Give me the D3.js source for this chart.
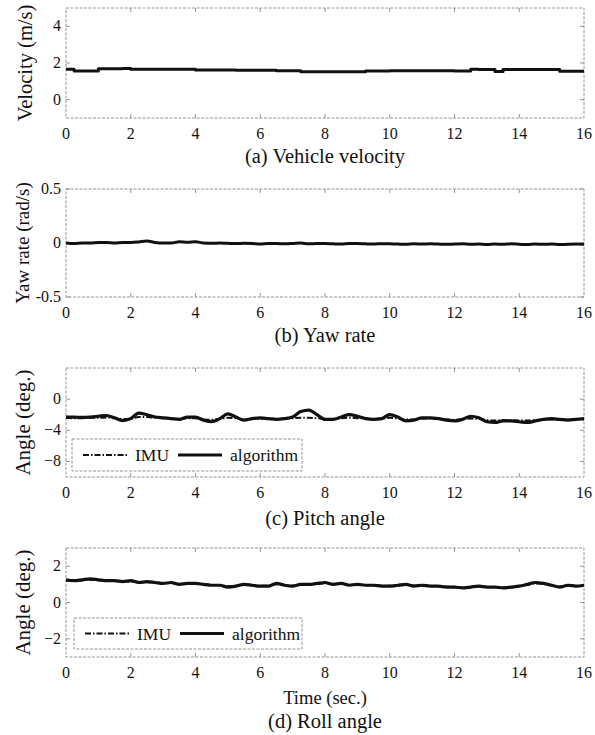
<!DOCTYPE html>
<html>
<head>
<meta charset="utf-8">
<script src="https://cdn.jsdelivr.net/npm/d3@7"></script>
<style>
  body { margin: 0; background: #fff; }
  text { font-family: "Liberation Serif", "Times New Roman", serif; fill: #111; }
</style>
</head>
<body>
<div id="chart"></div>
<script>
// sample times (s), 0.25 s step
var time = [0,0.25,0.5,0.75,1,1.25,1.5,1.75,2,2.25,2.5,2.75,3,3.25,3.5,3.75,
  4,4.25,4.5,4.75,5,5.25,5.5,5.75,6,6.25,6.5,6.75,7,7.25,7.5,7.75,
  8,8.25,8.5,8.75,9,9.25,9.5,9.75,10,10.25,10.5,10.75,11,11.25,11.5,11.75,
  12,12.25,12.5,12.75,13,13.25,13.5,13.75,14,14.25,14.5,14.75,15,15.25,15.5,15.75,16];

var velocity = [1.66,1.56,1.56,1.56,1.68,1.68,1.68,1.7,1.66,1.66,1.66,1.66,1.66,1.66,1.66,1.66,
  1.62,1.62,1.62,1.62,1.62,1.6,1.6,1.6,1.6,1.6,1.58,1.58,1.58,1.52,1.52,1.52,
  1.52,1.52,1.52,1.52,1.52,1.56,1.56,1.56,1.58,1.58,1.58,1.58,1.58,1.58,1.58,1.58,
  1.56,1.56,1.66,1.64,1.64,1.54,1.64,1.64,1.64,1.64,1.64,1.64,1.64,1.55,1.55,1.55,1.55];

var yawRate = [0.0,-0.005,0.0,0.0,0.005,0.005,0.0,0.005,0.005,0.01,0.018,0.005,0.0,0.0,0.012,0.008,
  0.012,0.0,-0.003,0.0,-0.003,-0.005,-0.003,-0.005,-0.01,-0.005,-0.005,-0.008,-0.005,0.0,-0.008,-0.005,
  -0.005,-0.008,-0.01,-0.005,-0.005,-0.008,-0.01,-0.006,-0.008,-0.01,-0.012,-0.008,-0.01,-0.008,-0.01,-0.012,
  -0.01,-0.008,-0.012,-0.01,-0.015,-0.01,-0.012,-0.008,-0.012,-0.015,-0.01,-0.012,-0.01,-0.015,-0.012,-0.01,-0.012];

var pitchImu = [-2.4,-2.45,-2.45,-2.4,-2.4,-2.35,-2.45,-2.55,-2.5,-2.3,-2.3,-2.4,-2.45,-2.5,-2.55,-2.45,
  -2.45,-2.6,-2.65,-2.55,-2.4,-2.45,-2.6,-2.55,-2.5,-2.5,-2.55,-2.5,-2.45,-2.4,-2.4,-2.45,
  -2.55,-2.55,-2.45,-2.4,-2.45,-2.5,-2.55,-2.5,-2.4,-2.5,-2.6,-2.6,-2.5,-2.5,-2.55,-2.6,
  -2.65,-2.6,-2.5,-2.55,-2.7,-2.75,-2.7,-2.7,-2.75,-2.75,-2.7,-2.65,-2.6,-2.65,-2.65,-2.6,-2.6];

var pitchAlg = [-2.3,-2.3,-2.35,-2.3,-2.2,-2.1,-2.4,-2.75,-2.5,-1.8,-2.0,-2.3,-2.4,-2.5,-2.6,-2.3,
  -2.3,-2.7,-2.9,-2.5,-1.9,-2.3,-2.7,-2.5,-2.4,-2.5,-2.6,-2.5,-2.3,-1.6,-1.4,-2.0,
  -2.6,-2.6,-2.3,-2.0,-2.2,-2.5,-2.6,-2.5,-2.0,-2.3,-2.8,-2.7,-2.4,-2.4,-2.5,-2.7,
  -2.8,-2.6,-2.2,-2.4,-2.9,-3.0,-2.8,-2.8,-2.9,-3.0,-2.8,-2.6,-2.5,-2.6,-2.7,-2.6,-2.5];

var rollImu = [1.2,1.2,1.22,1.25,1.22,1.2,1.18,1.15,1.15,1.12,1.12,1.1,1.06,1.08,1.02,1.04,
  1.04,1.0,0.97,0.96,0.9,0.92,0.98,0.95,0.92,0.92,1.0,0.96,0.93,0.98,1.0,1.02,
  1.06,1.0,1.03,0.97,0.98,0.96,0.95,0.92,0.92,0.94,0.97,0.92,0.93,0.91,0.9,0.87,
  0.86,0.83,0.86,0.88,0.86,0.85,0.83,0.86,0.9,0.97,1.05,1.02,0.95,0.88,0.93,0.91,0.93];

var rollAlg = [1.25,1.2,1.25,1.3,1.25,1.2,1.2,1.15,1.2,1.1,1.15,1.1,1.05,1.1,1.0,1.05,
  1.05,1.0,0.95,0.95,0.85,0.9,1.0,0.95,0.9,0.9,1.05,0.95,0.9,1.0,1.0,1.05,
  1.1,1.0,1.05,0.95,1.0,0.95,0.95,0.9,0.9,0.95,1.0,0.9,0.95,0.9,0.9,0.85,
  0.85,0.8,0.85,0.9,0.85,0.85,0.8,0.85,0.9,1.0,1.1,1.05,0.95,0.85,0.95,0.9,0.95];

var xTicks = [0,2,4,6,8,10,12,14,16];

var width = 595, height = 735;
var left = 66, right = 584;

var svg = d3.select("#chart").append("svg")
    .attr("width", width)
    .attr("height", height);

var x = d3.scaleLinear().domain([0, 16]).range([left, right]);

var panels = [
  { top: 8, bottom: 118, domain: [-1, 5], ticks: [0, 2, 4], fmt: d3.format("d"),
    ylabel: "Velocity (m/s)", ylabelX: 25, ylabelSize: 20.5, caption: "(a) Vehicle velocity", capY: 163,
    series: [{ values: velocity, width: 3, step: true }] },
  { top: 189, bottom: 297, domain: [-0.5, 0.5], ticks: [-0.5, 0, 0.5], fmt: function(d) { return d === 0 ? "0" : String(d); },
    ylabel: "Yaw rate (rad/s)", ylabelX: 22, ylabelSize: 19, caption: "(b) Yaw rate", capY: 342,
    series: [{ values: yawRate, width: 3 }] },
  { top: 368, bottom: 477, domain: [-10, 4], ticks: [-8, -4, 0], fmt: d3.format("d"),
    ylabel: "Angle (deg.)", ylabelX: 23, ylabelSize: 21, caption: "(c) Pitch angle", capY: 525,
    legend: { x: 72, y: 439, w: 230, h: 32 },
    series: [{ values: pitchImu, width: 2, dash: "6,2,1.5,2" }, { values: pitchAlg, width: 3.2 }] },
  { top: 548, bottom: 657, domain: [-3, 3], ticks: [-2, 0, 2], fmt: d3.format("d"),
    ylabel: "Angle (deg.)", ylabelX: 23, ylabelSize: 21, caption: "(d) Roll angle", capY: 728,
    xlabel: "Time (sec.)",
    legend: { x: 74, y: 618, w: 228, h: 31 },
    series: [{ values: rollImu, width: 2, dash: "6,2,1.5,2" }, { values: rollAlg, width: 3.2 }] }
];

var frameColor = "#8a8a8a";

panels.forEach(function(p) {
  var y = d3.scaleLinear().domain(p.domain).range([p.bottom, p.top]);
  var g = svg.append("g");

  // frame (scanned look: light dotted border)
  g.append("rect")
      .attr("x", left).attr("y", p.top)
      .attr("width", right - left).attr("height", p.bottom - p.top)
      .attr("fill", "none")
      .attr("stroke", frameColor)
      .attr("stroke-width", 0.9)
      .attr("stroke-dasharray", "3,1.5");

  // inward ticks, MATLAB style
  var xt = g.append("g");
  xTicks.slice(1, -1).forEach(function(t) {
    xt.append("line").attr("x1", x(t)).attr("x2", x(t)).attr("y1", p.bottom).attr("y2", p.bottom - 4);
    xt.append("line").attr("x1", x(t)).attr("x2", x(t)).attr("y1", p.top).attr("y2", p.top + 4);
  });
  p.ticks.forEach(function(t) {
    xt.append("line").attr("x1", left).attr("x2", left + 4).attr("y1", y(t)).attr("y2", y(t));
    xt.append("line").attr("x1", right).attr("x2", right - 4).attr("y1", y(t)).attr("y2", y(t));
  });
  xt.selectAll("line").attr("stroke", frameColor).attr("stroke-width", 0.9);

  // tick labels
  g.selectAll(".xl").data(xTicks).enter().append("text")
      .attr("x", function(d) { return x(d); })
      .attr("y", p.bottom + 21)
      .attr("text-anchor", "middle")
      .attr("font-size", 16)
      .text(function(d) { return d; });

  g.selectAll(".yl").data(p.ticks).enter().append("text")
      .attr("x", left - 5)
      .attr("y", function(d) { return y(d) + 5; })
      .attr("text-anchor", "end")
      .attr("font-size", 16)
      .text(p.fmt);

  // y label
  var cy = (p.top + p.bottom) / 2;
  g.append("text")
      .attr("transform", "translate(" + p.ylabelX + "," + cy + ") rotate(-90)")
      .attr("text-anchor", "middle")
      .attr("dy", "0.35em")
      .attr("font-size", p.ylabelSize)
      .text(p.ylabel);

  // series
  p.series.forEach(function(s) {
    var line = d3.line()
        .x(function(d, i) { return x(time[i]); })
        .y(function(d) { return y(d); })
        .curve(s.step ? d3.curveStepAfter : d3.curveMonotoneX);
    g.append("path")
        .datum(s.values)
        .attr("d", line)
        .attr("fill", "none")
        .attr("stroke", "#111")
        .attr("stroke-width", s.width)
        .attr("stroke-linejoin", "round")
        .attr("stroke-dasharray", s.dash || null);
  });

  // legend
  if (p.legend) {
    var L = p.legend;
    var lg = g.append("g");
    lg.append("rect")
        .attr("x", L.x).attr("y", L.y).attr("width", L.w).attr("height", L.h)
        .attr("fill", "#fff")
        .attr("stroke", frameColor)
        .attr("stroke-width", 0.9)
        .attr("stroke-dasharray", "3,1.5");
    var ly = L.y + L.h / 2;
    lg.append("line").attr("x1", L.x + 11).attr("x2", L.x + 56).attr("y1", ly).attr("y2", ly)
        .attr("stroke", "#111").attr("stroke-width", 2).attr("stroke-dasharray", "6,2,1.5,2");
    lg.append("text").attr("x", L.x + 63).attr("y", ly + 6).attr("font-size", 17.5).text("IMU");
    lg.append("line").attr("x1", L.x + 106).attr("x2", L.x + 150).attr("y1", ly).attr("y2", ly)
        .attr("stroke", "#111").attr("stroke-width", 3);
    lg.append("text").attr("x", L.x + 158).attr("y", ly + 6).attr("font-size", 17.5).text("algorithm");
  }

  if (p.xlabel) {
    g.append("text")
        .attr("x", (left + right) / 2)
        .attr("y", p.bottom + 47)
        .attr("text-anchor", "middle")
        .attr("font-size", 18.5)
        .text(p.xlabel);
  }

  g.append("text")
      .attr("x", (left + right) / 2)
      .attr("y", p.capY)
      .attr("text-anchor", "middle")
      .attr("font-size", 20.5)
      .text(p.caption);
});
</script>
</body>
</html>
